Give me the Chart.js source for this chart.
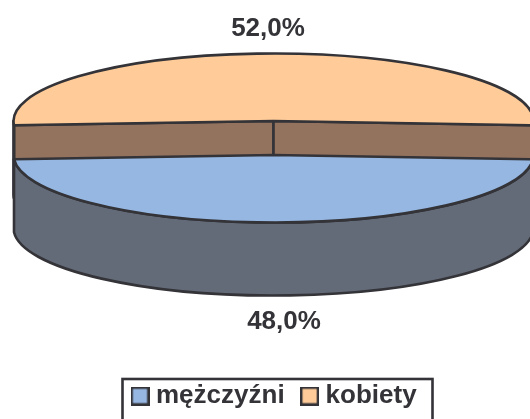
<!DOCTYPE html>
<html><head><meta charset="utf-8">
<style>html,body{margin:0;padding:0;background:#fff;overflow:hidden}canvas{display:block}</style>
<script src="https://cdn.jsdelivr.net/npm/chart.js@4"></script>
</head><body><canvas id="c" width="530" height="419"></canvas>
<script>
const categories = ['mężczyźni', 'kobiety'];
const shares = [48.0, 52.0];
const topColors = ['#95B7E1', '#FFCC99'];
const wallColors = ['#636B78', '#94735E'];

const INK = '#333338';
const STROKE = 2.6;
const CENTER_X = 273.5, CENTER_Y = 138, SQUASH = 67.5 / 260, DEPTH = 73, EXPLODE = 17;
const FONT = 'bold 26px "Liberation Sans", Arial, sans-serif';

function swatch(color) {
  const s = document.createElement('canvas');
  s.width = 19; s.height = 19;
  const g = s.getContext('2d');
  g.fillStyle = color; g.fillRect(1, 1, 17, 17);
  g.strokeStyle = INK; g.lineWidth = 2.4; g.strokeRect(1.2, 1.2, 16.6, 16.6);
  return s;
}
const swatches = topColors.map(swatch);

const pie3d = {
  id: 'pie3d',
  afterLayout(chart) {
    const lg = chart.legend;
    lg.left = 115; lg.right = 530; lg.top = 361; lg.bottom = 440;
  },
  beforeDatasetDraw(chart, args) {
    const ctx = chart.ctx;
    const arcs = args.meta.data;
    const m = a => Math.sin((a.startAngle + a.endAngle) / 2);
    const order = arcs.map((a, i) => i).sort((p, q) => m(arcs[p]) - m(arcs[q]));
    order.forEach(i => {
      const arc = arcs[i];
      const mid = (arc.startAngle + arc.endAngle) / 2;
      const cx = CENTER_X + Math.cos(mid) * EXPLODE;
      const cy = CENTER_Y + Math.sin(mid) * EXPLODE;
      const rx = arc.outerRadius, ry = rx * SQUASH;
      const a0 = arc.startAngle, a1 = arc.endAngle;
      ctx.save();
      ctx.lineWidth = STROKE; ctx.strokeStyle = INK; ctx.lineJoin = 'round';
      ctx.fillStyle = wallColors[i];
      // cut faces of a slice lying at the back
      if (Math.sin(mid) < 0) {
        [a0, a1].forEach(a => {
          const ex = cx + Math.cos(a) * rx, ey = cy + Math.sin(a) * ry;
          ctx.beginPath();
          ctx.moveTo(cx, cy); ctx.lineTo(ex, ey);
          ctx.lineTo(ex, ey + DEPTH); ctx.lineTo(cx, cy + DEPTH);
          ctx.closePath(); ctx.fill(); ctx.stroke();
        });
      }
      // outer wall on the front half of the slice
      const T = Math.PI * 2;
      [[0, Math.PI], [T, T + Math.PI]].forEach(([lo, hi]) => {
        const s = Math.max(a0, lo), e = Math.min(a1, hi);
        if (e <= s) return;
        ctx.beginPath();
        ctx.ellipse(cx, cy, rx, ry, 0, s, e);
        ctx.ellipse(cx, cy + DEPTH, rx, ry, 0, e, s, true);
        ctx.closePath(); ctx.fill(); ctx.stroke();
      });
      ctx.restore();
      // top surface, drawn by the library's arc element
      ctx.save();
      ctx.translate(cx, cy);
      ctx.scale(1, SQUASH);
      ctx.translate(-arc.x, -arc.y);
      arc.draw(ctx);
      ctx.restore();
      ctx.save();
      ctx.lineWidth = STROKE; ctx.strokeStyle = INK; ctx.lineJoin = 'round';
      ctx.beginPath();
      ctx.moveTo(cx, cy);
      ctx.ellipse(cx, cy, rx, ry, 0, a0, a1);
      ctx.closePath(); ctx.stroke();
      ctx.restore();
    });
    return false;
  },
  afterDraw(chart) {
    const ctx = chart.ctx;
    const total = shares.reduce((a, b) => a + b, 0);
    const fmt = v => (v / total * 100).toFixed(1).replace('.', ',') + '%';
    ctx.save();
    ctx.fillStyle = INK; ctx.font = FONT;
    ctx.textAlign = 'center'; ctx.textBaseline = 'middle';
    ctx.fillText(fmt(shares[1]), 268, 29);
    ctx.fillText(fmt(shares[0]), 284, 322);
    ctx.strokeStyle = INK; ctx.lineWidth = STROKE;
    ctx.strokeRect(122.5, 379, 310, 60);
    ctx.restore();
  }
};

new Chart(document.getElementById('c'), {
  type: 'pie',
  data: {
    labels: categories,
    datasets: [{
      data: shares,
      backgroundColor: topColors,
      borderWidth: 0
    }]
  },
  options: {
    responsive: false,
    animation: false,
    radius: 260,
    rotation: 180 - 360 * shares[0] / (shares[0] + shares[1]) / 2,
    layout: { padding: 0 },
    plugins: {
      tooltip: { enabled: false },
      legend: {
        display: true,
        position: 'bottom',
        align: 'start',
        labels: {
          usePointStyle: true,
          boxWidth: 6,
          padding: 22,
          color: INK,
          font: { family: '"Liberation Sans", Arial, sans-serif', size: 26, weight: 'bold' },
          generateLabels(chart) {
            return Chart.overrides.pie.plugins.legend.labels.generateLabels(chart)
              .map((it, i) => Object.assign(it, { pointStyle: swatches[i], lineWidth: 0 }));
          }
        }
      }
    }
  },
  plugins: [pie3d]
});
</script></body></html>
